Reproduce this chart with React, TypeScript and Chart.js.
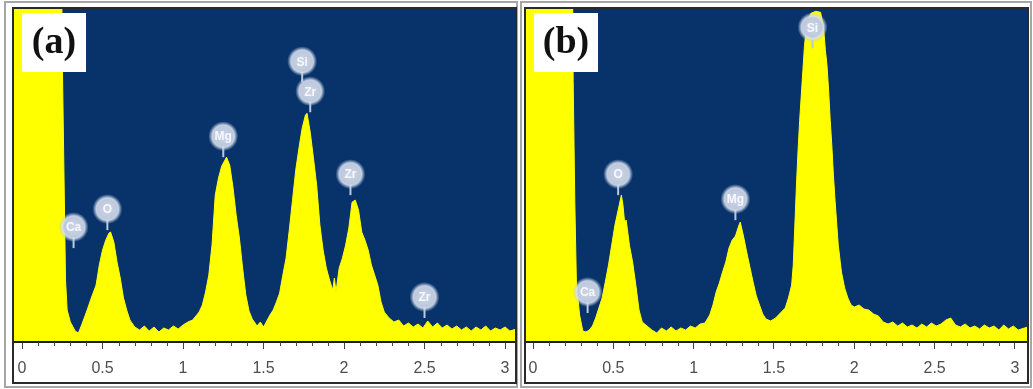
import React, { useEffect, useRef } from "react";
import { Chart, registerables } from "chart.js";
Chart.register(...registerables);

// ---------- data ----------
const ENERGY_A = [
  -0.05, 0.24, 0.25, 0.26, 0.27, 0.28, 0.3, 0.33, 0.35, 0.37, 0.4, 0.43, 0.46, 0.48, 0.5, 0.52, 0.54, 0.55,
  0.57, 0.59, 0.61, 0.63, 0.65, 0.67, 0.7, 0.73, 0.76, 0.79, 0.82, 0.85, 0.88, 0.91, 0.94, 0.97, 1.0, 1.03,
  1.06, 1.08, 1.1, 1.12, 1.14, 1.16, 1.18, 1.2, 1.22, 1.24, 1.26, 1.27, 1.29, 1.31, 1.33, 1.35, 1.37, 1.39,
  1.41, 1.43, 1.46, 1.48, 1.5, 1.52, 1.54, 1.56, 1.58, 1.6, 1.62, 1.64, 1.66, 1.68, 1.7, 1.72, 1.74, 1.76,
  1.77, 1.79, 1.81, 1.83, 1.85, 1.87, 1.89, 1.91, 1.93, 1.94, 1.95, 1.97, 1.99, 2.01, 2.03, 2.05, 2.07, 2.09,
  2.11, 2.13, 2.15, 2.17, 2.19, 2.21, 2.23, 2.25, 2.28, 2.31, 2.34, 2.37, 2.4, 2.43, 2.46, 2.49, 2.52, 2.55,
  2.58, 2.61, 2.64, 2.67, 2.7, 2.73, 2.76, 2.79, 2.82, 2.85, 2.88, 2.91, 2.94, 2.97, 3.0, 3.03, 3.07,
];
const COUNTS_A = [
  1500, 1500, 846, 516, 186, 96, 60, 33, 27, 51, 90, 132, 171, 231, 276, 306, 327, 330,
  300, 240, 192, 132, 96, 66, 45, 36, 48, 33, 45, 30, 42, 36, 48, 39, 51, 60,
  66, 78, 90, 111, 150, 201, 291, 441, 492, 528, 546, 555, 531, 465, 381, 312, 222, 141,
  93, 69, 48, 60, 45, 63, 81, 96, 120, 147, 201, 252, 336, 426, 516, 582, 642, 681,
  687, 630, 552, 471, 351, 276, 222, 186, 156, 192, 150, 222, 252, 291, 342, 420, 426, 396,
  330, 306, 276, 231, 201, 171, 120, 90, 72, 60, 66, 48, 57, 45, 54, 42, 63, 45,
  57, 42, 51, 39, 48, 36, 45, 33, 45, 36, 48, 33, 42, 36, 45, 33, 39,
];

const ENERGY_B = [
  -0.05, 0.24, 0.25, 0.26, 0.27, 0.29, 0.31, 0.33, 0.35, 0.37, 0.39, 0.41, 0.43, 0.45, 0.47, 0.49, 0.51, 0.53,
  0.55, 0.56, 0.57, 0.58, 0.6, 0.62, 0.64, 0.66, 0.68, 0.71, 0.74, 0.77, 0.8, 0.83, 0.86, 0.89, 0.92, 0.95,
  0.98, 1.01, 1.04, 1.07, 1.1, 1.12, 1.14, 1.16, 1.18, 1.2, 1.22, 1.24, 1.26, 1.28, 1.29, 1.31, 1.33, 1.35,
  1.37, 1.39, 1.41, 1.43, 1.45, 1.48, 1.51, 1.54, 1.57, 1.59, 1.61, 1.62, 1.63, 1.64, 1.65, 1.66, 1.67, 1.68,
  1.69, 1.7, 1.71, 1.73, 1.76, 1.79, 1.8, 1.81, 1.82, 1.83, 1.84, 1.85, 1.86, 1.87, 1.88, 1.9, 1.92, 1.94,
  1.96, 1.98, 2.0, 2.03, 2.06, 2.09, 2.12, 2.15, 2.18, 2.21, 2.24, 2.27, 2.3, 2.33, 2.36, 2.39, 2.42, 2.45,
  2.48, 2.51, 2.54, 2.57, 2.6, 2.63, 2.66, 2.69, 2.72, 2.75, 2.78, 2.81, 2.84, 2.87, 2.9, 2.93, 2.96, 2.99,
  3.02, 3.08,
];
const COUNTS_B = [
  1500, 1500, 786, 426, 180, 81, 33, 30, 36, 48, 72, 102, 132, 180, 231, 291, 351, 396,
  441, 411, 360, 366, 291, 240, 171, 96, 60, 48, 36, 27, 42, 33, 45, 33, 42, 36,
  48, 42, 54, 57, 81, 111, 150, 177, 210, 240, 282, 306, 318, 348, 360, 318, 270, 225,
  180, 138, 111, 84, 69, 63, 72, 87, 102, 132, 171, 231, 351, 471, 576, 666, 741, 816,
  891, 936, 966, 987, 993, 990, 966, 936, 876, 831, 756, 666, 591, 501, 426, 291, 210, 162,
  132, 111, 105, 111, 99, 96, 84, 78, 60, 54, 60, 48, 57, 45, 51, 42, 54, 45,
  57, 48, 54, 66, 72, 51, 45, 54, 42, 48, 39, 51, 42, 48, 36, 51, 39, 48,
  36, 45,
];

// peak markers: element, energy (keV), stem foot (counts)
const LABELS_A = ["Ca", "O", "Mg", "Si", "Zr", "Zr", "Zr"];
const LABEL_E_A = [0.32, 0.53, 1.25, 1.74, 1.79, 2.04, 2.5];
const LABEL_C_A = [282, 336, 555, 780, 690, 441, 72];

const LABELS_B = ["Ca", "O", "Mg", "Si"];
const LABEL_E_B = [0.34, 0.53, 1.26, 1.74];
const LABEL_C_B = [87, 441, 366, 882];

const MAJOR_TICKS = [0, 0.5, 1, 1.5, 2, 2.5, 3];
const MINOR_TICKS = [
  0.1, 0.2, 0.3, 0.4, 0.6, 0.7, 0.8, 0.9, 1.1, 1.2, 1.3, 1.4, 1.6, 1.7, 1.8, 1.9, 2.1, 2.2, 2.3, 2.4, 2.6, 2.7,
  2.8, 2.9,
];

const BLUE = "#08336a";
const YELLOW = "#ffff00";

type PanelProps = {
  title: string;
  energy: number[];
  counts: number[];
  names: string[];
  labelE: number[];
  labelC: number[];
  xMin: number;
  xMax: number;
  width: number;
  height: number;
};

function Panel(p: PanelProps) {
  const ref = useRef<HTMLCanvasElement | null>(null);
  useEffect(() => {
    if (!ref.current) return;
    const deco = {
      id: "deco",
      beforeDraw(chart: any) {
        const { ctx, chartArea } = chart;
        ctx.save();
        ctx.fillStyle = BLUE;
        ctx.fillRect(chartArea.left, chartArea.top, chartArea.right - chartArea.left, chartArea.bottom - chartArea.top);
        ctx.restore();
      },
      afterDraw(chart: any) {
        const { ctx, chartArea } = chart;
        const xs = chart.scales.x;
        const ys = chart.scales.y;
        ctx.save();
        // axis line
        ctx.fillStyle = "#1c1c1c";
        ctx.fillRect(chartArea.left, chartArea.bottom - 1, chartArea.right - chartArea.left, 2);
        // minor ticks
        ctx.strokeStyle = "#444";
        ctx.lineWidth = 1;
        MINOR_TICKS.forEach((v) => {
          const x = Math.round(xs.getPixelForValue(v)) + 0.5;
          ctx.beginPath();
          ctx.moveTo(x, chartArea.bottom);
          ctx.lineTo(x, chartArea.bottom + 4);
          ctx.stroke();
        });
        // element markers
        p.names.forEach((n, i) => {
          const x = xs.getPixelForValue(p.labelE[i]);
          const y = ys.getPixelForValue(p.labelC[i]);
          const cy = y - 21;
          ctx.strokeStyle = "#b9c8de";
          ctx.lineWidth = 2;
          ctx.beginPath();
          ctx.moveTo(x, cy + 10);
          ctx.lineTo(x, y);
          ctx.stroke();
          const g = ctx.createRadialGradient(x, cy, 0, x, cy, 15);
          g.addColorStop(0, "rgba(205,214,230,1)");
          g.addColorStop(0.62, "rgba(190,201,222,1)");
          g.addColorStop(0.75, "rgba(215,224,238,0.9)");
          g.addColorStop(1, "rgba(180,195,220,0)");
          ctx.fillStyle = g;
          ctx.beginPath();
          ctx.arc(x, cy, 15, 0, Math.PI * 2);
          ctx.fill();
          ctx.fillStyle = "#f6f8fc";
          ctx.font = "bold 12px 'Liberation Sans', Arial, sans-serif";
          ctx.textAlign = "center";
          ctx.textBaseline = "middle";
          ctx.fillText(n, x, cy + 1);
        });
        // title box
        const bx = chartArea.left + 8;
        const by = chartArea.top + 4;
        ctx.fillStyle = "#ffffff";
        ctx.fillRect(bx, by, 64, 59);
        ctx.fillStyle = "#111";
        ctx.font = "bold 38px 'Liberation Serif', 'Times New Roman', serif";
        ctx.textAlign = "center";
        ctx.textBaseline = "middle";
        ctx.fillText(p.title, bx + 32, by + 30);
        ctx.restore();
      },
    };
    const chart = new Chart(ref.current, {
      type: "line",
      data: {
        datasets: [
          {
            data: p.energy.map((e, i) => ({ x: e, y: p.counts[i] })),
            borderColor: YELLOW,
            borderWidth: 1,
            backgroundColor: YELLOW,
            fill: "origin",
            pointRadius: 0,
            tension: 0,
          },
        ],
      },
      options: {
        animation: false,
        responsive: false,
        maintainAspectRatio: false,
        layout: { padding: 0 },
        plugins: { legend: { display: false }, tooltip: { enabled: false } },
        scales: {
          x: {
            type: "linear",
            min: p.xMin,
            max: p.xMax,
            afterBuildTicks: (s: any) => {
              s.ticks = MAJOR_TICKS.map((v) => ({ value: v }));
            },
            afterFit: (s: any) => {
              s.height = 40;
              s.paddingLeft = 0;
              s.paddingRight = 0;
            },
            grid: { display: true, drawOnChartArea: false, drawTicks: true, tickLength: 7, color: "#444", lineWidth: 1 },
            border: { display: false },
            ticks: {
              autoSkip: false,
              maxRotation: 0,
              padding: 10,
              color: "#4e4e4e",
              font: { family: "'Liberation Sans', Arial, sans-serif", size: 16 },
              callback: (v: any) => String(v),
            },
          },
          y: { display: false, min: 0, max: 1000 },
        },
      },
      plugins: [deco],
    } as any);
    return () => chart.destroy();
  }, []);
  return <canvas ref={ref} width={p.width} height={p.height} style={{ display: "block", width: p.width, height: p.height }} />;
}

export default function App() {
  return (
    <div style={{ position: "fixed", left: 0, top: 0, width: 1033, height: 389, background: "#fff", overflow: "hidden" }}>
      <div style={{ position: "absolute", left: 4, top: 1, width: 510, height: 383, border: "2px solid #a6a6a6" }} />
      <div style={{ position: "absolute", left: 520, top: 1, width: 508, height: 383, border: "2px solid #a6a6a6" }} />
      <div style={{ position: "absolute", left: 12, top: 7, border: "2px solid #2a2a2a", background: "#fff" }}>
        <Panel title="(a)" energy={ENERGY_A} counts={COUNTS_A} names={LABELS_A} labelE={LABEL_E_A} labelC={LABEL_C_A}
          xMin={-0.05} xMax={3.062} width={501} height={373} />
      </div>
      <div style={{ position: "absolute", left: 524, top: 7, border: "2px solid #2a2a2a", background: "#fff" }}>
        <Panel title="(b)" energy={ENERGY_B} counts={COUNTS_B} names={LABELS_B} labelE={LABEL_E_B} labelC={LABEL_C_B}
          xMin={-0.0436} xMax={3.075} width={501} height={373} />
      </div>
    </div>
  );
}
